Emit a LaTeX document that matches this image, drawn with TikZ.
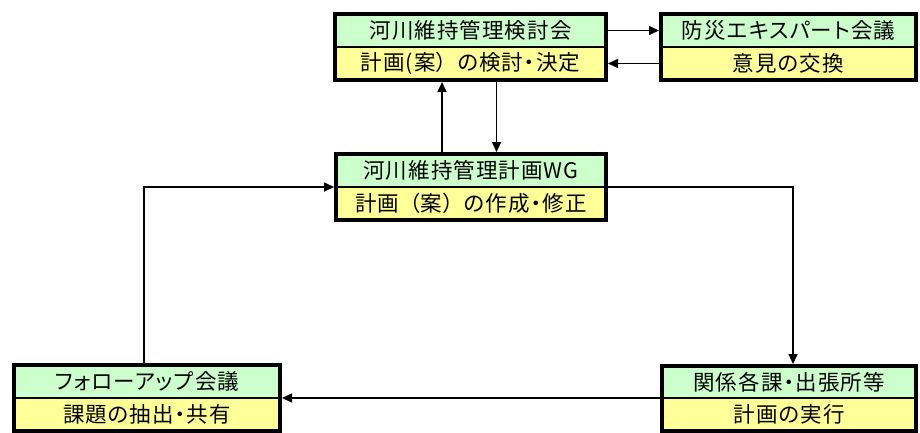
\documentclass[tikz,border=0pt]{standalone}
\usepackage{fontspec}
\setmainfont{Noto Sans CJK JP}[LetterSpace=5,RawFeature=+palt]
\newfontfamily\jpfull{Noto Sans CJK JP}[LetterSpace=0]
\usetikzlibrary{arrows.meta}
\definecolor{boxgreen}{HTML}{CCFFCC}
\definecolor{boxyellow}{HTML}{FFFF99}
\tikzset{
  half/.style={draw=black, line width=2.5pt, inner sep=0pt, outer sep=2pt,
    font=\fontsize{21.5}{24}\selectfont, text=black},
  gpart/.style={half, fill=boxgreen},
  ypart/.style={half, fill=boxyellow},
  frame/.style={line width=4pt},
  arr/.style={line width=1.6pt, -{Triangle[length=10pt,width=9pt]}}
}
\begin{document}
\begin{tikzpicture}[x=1pt,y=-1pt]
\useasboundingbox (0,0) rectangle (920,432);
% Box A
\node[gpart, minimum width=271pt, minimum height=33pt] (A1) at (470.5,30.5) {河川維持管理検討会};
\node[ypart, minimum width=271pt, minimum height=33pt] (A2) at (470.5,63.5) {計画(案{\jpfull ）}の検討・決定};
\draw[frame] ([shift={(2pt,-2pt)}]A1.north west) rectangle ([shift={(-2pt,2pt)}]A2.south east);
% Box B
\node[gpart, minimum width=255pt, minimum height=33pt] (B1) at (788.5,30.5) {防災エキスパート会議};
\node[ypart, minimum width=255pt, minimum height=33pt] (B2) at (788.5,63.5) {意見の交換};
\draw[frame] ([shift={(2pt,-2pt)}]B1.north west) rectangle ([shift={(-2pt,2pt)}]B2.south east);
% WG
\node[gpart, minimum width=270pt, minimum height=33pt] (W1) at (471,170.5) {河川維持管理計画WG};
\node[ypart, minimum width=270pt, minimum height=33pt] (W2) at (471,203.5) {計画{\jpfull （}案{\jpfull ）}の作成・修正};
\draw[frame] ([shift={(2pt,-2pt)}]W1.north west) rectangle ([shift={(-2pt,2pt)}]W2.south east);
% Bottom left
\node[gpart, minimum width=266pt, minimum height=33pt] (L1) at (147,381.5) {フォローアップ会議};
\node[ypart, minimum width=266pt, minimum height=33pt] (L2) at (147,414.5) {課題の抽出・共有};
\draw[frame] ([shift={(2pt,-2pt)}]L1.north west) rectangle ([shift={(-2pt,2pt)}]L2.south east);
% Bottom right
\node[gpart, minimum width=254pt, minimum height=32pt] (R1) at (789,382) {関係各課・出張所等};
\node[ypart, minimum width=254pt, minimum height=33pt] (R2) at (789,414.5) {計画の実行};
\draw[frame] ([shift={(2pt,-2pt)}]R1.north west) rectangle ([shift={(-2pt,2pt)}]R2.south east);
% Connectors
\draw[arr] (A1.east) -- (B1.west);
\draw[arr] (B2.west) -- (A2.east);
\draw[arr] ([xshift=-29pt]W1.north) -- ([xshift=-29pt]W1.north |- A2.south);
\draw[arr] ([xshift=26pt]A2.south) -- ([xshift=26pt]A2.south |- W1.north);
\draw[arr] ([xshift=-3pt]L1.north) |- ([yshift=2pt]W1.south west);
\draw[arr] ([yshift=2pt]W1.south east) -| ([xshift=4pt]R1.north);
\draw[arr] ([yshift=2pt]R1.south west) -- ([yshift=2pt]L1.south east);
\end{tikzpicture}
\end{document}
